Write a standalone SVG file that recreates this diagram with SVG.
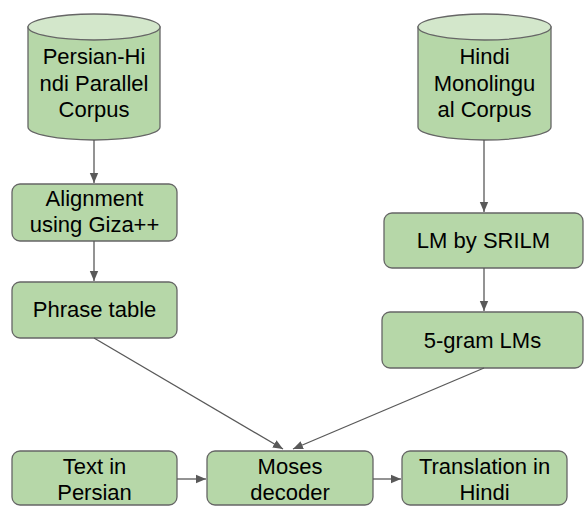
<svg xmlns="http://www.w3.org/2000/svg" width="586" height="506" viewBox="0 0 586 506">
<defs>
<marker id="ah" viewBox="0 0 10 10" refX="10" refY="5" markerWidth="10" markerHeight="10" markerUnits="userSpaceOnUse" orient="auto">
<path d="M0,0.8 L10,5 L0,9.2 Z" fill="#595959"/>
</marker>
<style>
.box{fill:#b6d7a8;stroke:#666666;stroke-width:1.3}
.top{fill:#d3e7cb;stroke:#666666;stroke-width:1.3}
.t{font-family:"Liberation Sans",Arial,sans-serif;font-size:22px;fill:#000000;text-anchor:middle}
.c{stroke:#595959;stroke-width:1.3;fill:none;marker-end:url(#ah)}
</style>
</defs>
<rect width="586" height="506" fill="#ffffff"/>
<g id="persian-hindi-corpus">
<path class="box" d="M28,27 L28,127 A66,13 0 0 0 160,127 L160,27 Z"/>
<ellipse class="top" cx="94" cy="27" rx="66" ry="13"/>
<text class="t" x="94" y="64">Persian-Hi</text>
<text class="t" x="94" y="91">ndi Parallel</text>
<text class="t" x="94" y="117">Corpus</text>
</g>
<g id="hindi-mono-corpus">
<path class="box" d="M418,27 L418,127 A66.5,13 0 0 0 551,127 L551,27 Z"/>
<ellipse class="top" cx="484.5" cy="27" rx="66.5" ry="13"/>
<text class="t" x="484.5" y="64">Hindi</text>
<text class="t" x="484.5" y="91">Monolingu</text>
<text class="t" x="484.5" y="117">al Corpus</text>
</g>
<g id="alignment">
<rect class="box" x="12" y="184" width="165" height="57" rx="8"/>
<text class="t" x="94.5" y="206">Alignment</text>
<text class="t" x="94.5" y="232">using Giza++</text>
</g>
<g id="phrase-table">
<rect class="box" x="12" y="282" width="165" height="56" rx="8"/>
<text class="t" x="94.5" y="317">Phrase table</text>
</g>
<g id="lm-srilm">
<rect class="box" x="384" y="213" width="199" height="55" rx="8"/>
<text class="t" x="483.5" y="248">LM by SRILM</text>
</g>
<g id="five-gram">
<rect class="box" x="382" y="312" width="201" height="56" rx="8"/>
<text class="t" x="482.5" y="348">5-gram LMs</text>
</g>
<g id="text-persian">
<rect class="box" x="12" y="451" width="165" height="54" rx="8"/>
<text class="t" x="94.5" y="474">Text in</text>
<text class="t" x="94.5" y="500">Persian</text>
</g>
<g id="moses">
<rect class="box" x="207" y="451" width="166" height="54" rx="8"/>
<text class="t" x="290" y="474">Moses</text>
<text class="t" x="290" y="500">decoder</text>
</g>
<g id="translation">
<rect class="box" x="402" y="451" width="165" height="54" rx="8"/>
<text class="t" x="484.5" y="474">Translation in</text>
<text class="t" x="484.5" y="500">Hindi</text>
</g>
<g id="connectors">
<line class="c" x1="94" y1="140" x2="94" y2="183"/>
<line class="c" x1="94" y1="241" x2="94" y2="281"/>
<line class="c" x1="484" y1="140" x2="484" y2="212"/>
<line class="c" x1="484" y1="268" x2="484" y2="311"/>
<line class="c" x1="94" y1="338" x2="283" y2="449"/>
<line class="c" x1="484" y1="368" x2="293" y2="449"/>
<line class="c" x1="177" y1="479" x2="206" y2="479"/>
<line class="c" x1="373" y1="479" x2="401" y2="479"/>
</g>
</svg>
